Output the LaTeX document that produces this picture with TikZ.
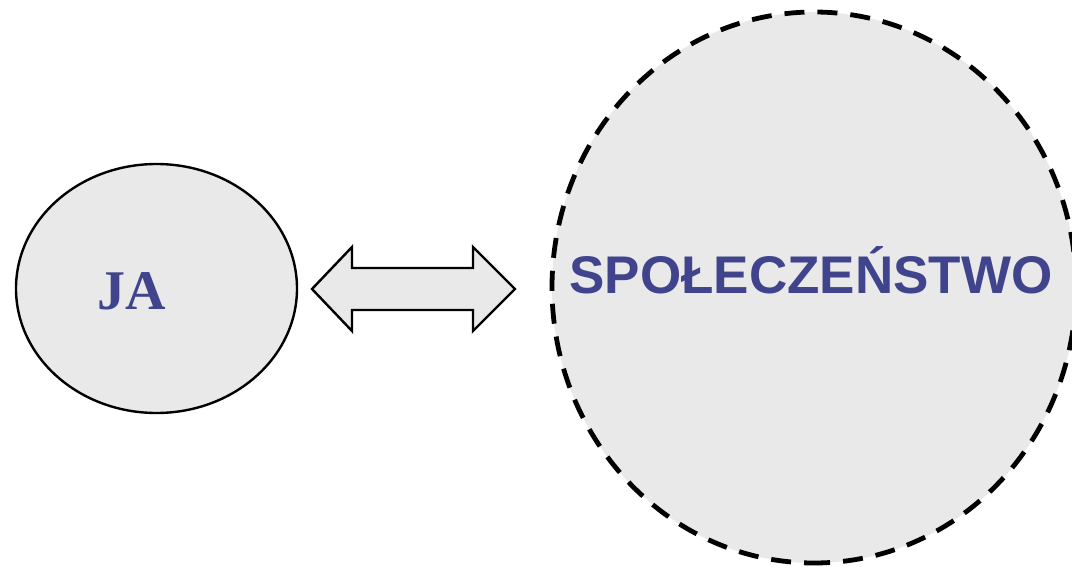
\documentclass[tikz,border=0pt]{standalone}
\usepackage{fontspec}
\setmainfont{Liberation Serif}
\newfontfamily\arialfont{Liberation Sans}
\definecolor{fillgray}{HTML}{E9E9E9}
\definecolor{textblue}{HTML}{40448C}
\tikzset{
  blob/.style={fill=fillgray, draw=black},
  label/.style={text=textblue, inner sep=0pt, anchor=base}
}
\begin{document}
\begin{tikzpicture}[x=1pt,y=-1pt]
\useasboundingbox (0,0) rectangle (1072,567);
% left ellipse
\draw[blob, line width=2.4pt] (156.5,288.5) ellipse [x radius=140.5, y radius=124.5];
\node[label, font=\fontsize{56}{60}\selectfont\bfseries] (ja) at (131.5,309) {JA};
% big dashed circle
\fill[fillgray] (814,287.5) ellipse [x radius=262, y radius=275.5];
\draw[line width=4.8pt, dash pattern=on 20pt off 13pt, dash phase=10pt] (814,563) arc[start angle=90, end angle=450, x radius=262, y radius=275.5];
\node[label, font=\arialfont\fontsize{53}{58}\selectfont\bfseries] (sp) at (811,293) {SPOŁECZEŃSTWO};
% double arrow
\draw[blob, line width=2.4pt, line join=miter] (312,289) -- (352,247) -- (352,268) -- (473,268) -- (473,247) -- (515,289)
  -- (473,331) -- (473,310) -- (352,310) -- (352,331) -- cycle;
\end{tikzpicture}
\end{document}
